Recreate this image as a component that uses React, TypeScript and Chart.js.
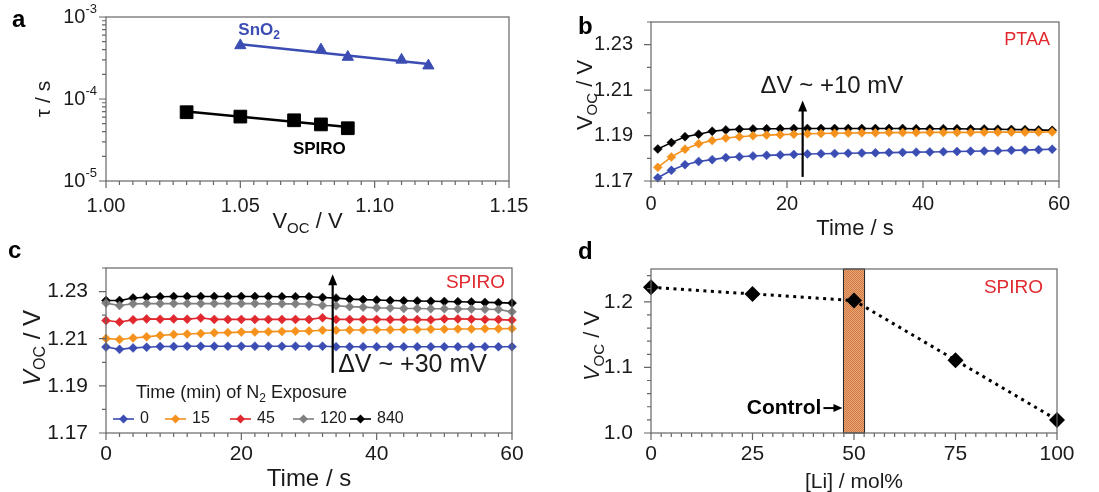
import React, { useEffect, useRef } from 'react';
import { Chart, registerables } from 'chart.js';

Chart.register(...registerables);

const FONT = '"Liberation Sans", Arial, Helvetica, sans-serif';
const AXIS_COLOR = '#666666';
const TEXT_COLOR = '#1b1b1b';
const RED = '#e0282e';
const BLUE = '#3b4db3';
const ORANGE = '#f5921e';
const GRAY = '#808080';
const BLACK = '#000000';

// ---------------- Panel a : tau vs Voc ----------------
const aSnO2Voc = [1.05, 1.08, 1.09, 1.11, 1.12];
const aSnO2Tau = [4.5e-4, 4.0e-4, 3.25e-4, 3.0e-4, 2.55e-4];
const aSpiroVoc = [1.03, 1.05, 1.07, 1.08, 1.09];
const aSpiroTau = [6.9e-5, 6.1e-5, 5.5e-5, 4.9e-5, 4.4e-5];
const aXTicks = [1.0, 1.05, 1.1, 1.15];
const aYTicks = [1e-5, 1e-4, 1e-3];

// ---------------- Panel b : PTAA Voc vs time ----------------
const bTime = [1, 3, 5, 7, 9, 11, 13, 15, 17, 19, 21, 23, 25, 27, 29, 31, 33, 35, 37, 39, 41, 43, 45, 47, 49, 51, 53, 55, 57, 59];
const bVoc0 = [1.1714, 1.1747, 1.1772, 1.1786, 1.1794, 1.1803, 1.1807, 1.181, 1.1813, 1.1815, 1.1817, 1.1819, 1.182, 1.1821, 1.1822, 1.1823, 1.1824, 1.1825, 1.1826, 1.1827, 1.1828, 1.1829, 1.183, 1.1831, 1.1832, 1.1833, 1.1835, 1.1836, 1.1838, 1.184];
const bVoc15 = [1.176, 1.1806, 1.184, 1.1864, 1.1878, 1.1889, 1.1895, 1.1899, 1.1902, 1.1904, 1.1906, 1.1908, 1.1909, 1.191, 1.1911, 1.1912, 1.1912, 1.1913, 1.1913, 1.1913, 1.1914, 1.1914, 1.1914, 1.1914, 1.1915, 1.1915, 1.1915, 1.1915, 1.1915, 1.1916];
const bVoc840 = [1.1841, 1.1869, 1.1895, 1.1906, 1.1919, 1.1925, 1.1928, 1.1929, 1.193, 1.193, 1.1931, 1.1931, 1.1931, 1.1931, 1.1931, 1.1931, 1.1931, 1.1931, 1.1931, 1.193, 1.193, 1.193, 1.193, 1.1929, 1.1929, 1.1928, 1.1927, 1.1926, 1.1925, 1.1923];
const bXTicks = [0, 20, 40, 60];
const bYTicks = [1.17, 1.19, 1.21, 1.23];
const bArrow = { x: 22.3, from: 1.1718, to: 1.2054 };
const bNote = { x: 26.6, y: 1.2117, text: 'ΔV ~ +10 mV' };

// ---------------- Panel c : SPIRO Voc vs time ----------------
const cTime = [0, 2, 4, 6, 8, 10, 12, 14, 16, 18, 20, 22, 24, 26, 28, 30, 32, 34, 36, 38, 40, 42, 44, 46, 48, 50, 52, 54, 56, 58, 60];
const cLegendLabels = ['0', '15', '45', '120', '840'];
const cVoc0 = [1.2065, 1.2055, 1.2061, 1.2064, 1.2067, 1.2067, 1.2068, 1.2068, 1.2068, 1.2068, 1.2068, 1.2068, 1.2068, 1.2068, 1.2068, 1.2068, 1.2068, 1.2066, 1.2066, 1.2066, 1.2066, 1.2066, 1.2066, 1.2066, 1.2066, 1.2066, 1.2066, 1.2066, 1.2066, 1.2066, 1.2066];
const cVoc15 = [1.2101, 1.2097, 1.2103, 1.2108, 1.2114, 1.2118, 1.212, 1.2122, 1.2125, 1.2126, 1.2128, 1.2129, 1.213, 1.2131, 1.2132, 1.2133, 1.2136, 1.2136, 1.2137, 1.2137, 1.2138, 1.2138, 1.2139, 1.2139, 1.214, 1.214, 1.2141, 1.2141, 1.2142, 1.2142, 1.2143];
const cVoc45 = [1.2177, 1.2171, 1.218, 1.2184, 1.2183, 1.2184, 1.2183, 1.2188, 1.2182, 1.2182, 1.2182, 1.2182, 1.2182, 1.2182, 1.2182, 1.2182, 1.2189, 1.2182, 1.2182, 1.2182, 1.2182, 1.2181, 1.2181, 1.2181, 1.218, 1.2184, 1.2184, 1.2183, 1.2182, 1.2181, 1.2179];
const cVoc120 = [1.2251, 1.2241, 1.2248, 1.2249, 1.2249, 1.2249, 1.2249, 1.2249, 1.2249, 1.2249, 1.2249, 1.2249, 1.2248, 1.2248, 1.2248, 1.2247, 1.2241, 1.224, 1.2236, 1.2234, 1.2231, 1.223, 1.2228, 1.2228, 1.2227, 1.2227, 1.2226, 1.2226, 1.2225, 1.2224, 1.2214];
const cVoc840 = [1.2262, 1.2262, 1.2273, 1.2276, 1.2278, 1.2279, 1.2279, 1.2279, 1.2279, 1.2279, 1.2279, 1.2279, 1.2279, 1.2278, 1.2278, 1.2278, 1.2275, 1.2272, 1.2268, 1.2266, 1.2264, 1.2262, 1.2261, 1.226, 1.2259, 1.2258, 1.2257, 1.2256, 1.2254, 1.2253, 1.2251];
const cXTicks = [0, 20, 40, 60];
const cYTicks = [1.17, 1.19, 1.21, 1.23];
const cArrow = { x: 33.5, from: 1.1955, to: 1.2374 };
const cNote = { x: 45.3, y: 1.199, text: 'ΔV ~ +30 mV' };

// ---------------- Panel d : Voc vs [Li] ----------------
const dLi = [0, 25, 50, 75, 100];
const dVoc = [1.222, 1.212, 1.202, 1.111, 1.02];
const dXTicks = [0, 25, 50, 75, 100];
const dYTicks = [1.0, 1.1, 1.2];
const dControlBand = [47.4, 52.6];
const dControlY = 1.038;

// ---------------- helpers ----------------
const YW = 60;
const XH = 34;

type Area = { left: number; top: number; right: number; bottom: number };
type Part = { t: string; size: number; bold?: boolean; italic?: boolean; dy?: number; color?: string };
type AxisSpec = {
  type?: 'linear' | 'logarithmic';
  min: number;
  max: number;
  ticks: number[];
  minor: number[];
  fmt?: (v: number) => string;
  showLabels?: boolean;
  pad?: number;
};

function range(min: number, max: number, step: number): number[] {
  const out: number[] = [];
  const n = Math.round((max - min) / step);
  for (let i = 0; i <= n; i++) out.push(+(min + i * step).toFixed(6));
  return out;
}

function logMinor(minExp: number, maxExp: number): number[] {
  const out: number[] = [];
  for (let e = minExp; e < maxExp; e++) for (let k = 2; k <= 9; k++) out.push(k * Math.pow(10, e));
  return out;
}

function pts(xs: number[], ys: number[]) {
  return xs.map((x, i) => ({ x, y: ys[i] }));
}

function logFitLine(xs: number[], ys: number[]) {
  const n = xs.length;
  const ly = ys.map((v) => Math.log10(v));
  const mx = xs.reduce((s, v) => s + v, 0) / n;
  const my = ly.reduce((s, v) => s + v, 0) / n;
  let sxy = 0;
  let sxx = 0;
  for (let i = 0; i < n; i++) {
    sxy += (xs[i] - mx) * (ly[i] - my);
    sxx += (xs[i] - mx) * (xs[i] - mx);
  }
  const m = sxy / sxx;
  const b = my - m * mx;
  return [xs[0], xs[n - 1]].map((x) => ({ x, y: Math.pow(10, b + m * x) }));
}

function fontOf(p: Part) {
  return `${p.italic ? 'italic ' : ''}${p.bold ? 'bold ' : ''}${p.size}px ${FONT}`;
}

function drawRich(ctx: CanvasRenderingContext2D, parts: Part[], x: number, y: number, align: 'left' | 'center' | 'right' = 'center', angle = 0) {
  ctx.save();
  ctx.translate(x, y);
  if (angle) ctx.rotate(angle);
  let total = 0;
  const widths = parts.map((p) => {
    ctx.font = fontOf(p);
    const w = ctx.measureText(p.t).width;
    total += w;
    return w;
  });
  let cx = align === 'left' ? 0 : align === 'right' ? -total : -total / 2;
  ctx.textBaseline = 'middle';
  ctx.textAlign = 'left';
  parts.forEach((p, i) => {
    ctx.font = fontOf(p);
    ctx.fillStyle = p.color || TEXT_COLOR;
    ctx.fillText(p.t, cx, p.dy || 0);
    cx += widths[i];
  });
  ctx.restore();
}

function vocParts(size: number, italic = false): Part[] {
  return [
    { t: 'V', size, italic },
    { t: 'OC', size: Math.round(size * 0.68), dy: size * 0.3 },
    { t: ' / V', size },
  ];
}

function axisCfg(s: AxisSpec, horizontal: boolean, fs: number) {
  return {
    type: s.type || 'linear',
    min: s.min,
    max: s.max,
    grid: { display: false },
    border: { display: false },
    afterBuildTicks: (sc: any) => {
      sc.ticks = s.ticks.map((v) => ({ value: v }));
    },
    afterFit: (sc: any) => {
      if (horizontal) sc.height = XH;
      else sc.width = YW;
    },
    ticks: {
      display: s.showLabels !== false,
      autoSkip: false,
      maxRotation: 0,
      minRotation: 0,
      padding: s.pad !== undefined ? s.pad : horizontal ? 5 : 10,
      color: TEXT_COLOR,
      font: { family: FONT, size: fs },
      callback: (v: any) => (s.fmt ? s.fmt(Number(v)) : String(v)),
    },
  };
}

function drawFrame(chart: any, xs: AxisSpec, ys: AxisSpec) {
  const { ctx, chartArea: a } = chart;
  const x = chart.scales.x;
  const y = chart.scales.y;
  ctx.save();
  ctx.strokeStyle = AXIS_COLOR;
  ctx.lineWidth = 1.2;
  ctx.strokeRect(a.left, a.top, a.right - a.left, a.bottom - a.top);
  ctx.beginPath();
  xs.minor.forEach((v) => {
    const p = x.getPixelForValue(v);
    ctx.moveTo(p, a.bottom);
    ctx.lineTo(p, a.bottom + 4);
  });
  xs.ticks.forEach((v) => {
    const p = x.getPixelForValue(v);
    ctx.moveTo(p, a.bottom);
    ctx.lineTo(p, a.bottom + 7);
  });
  ys.minor.forEach((v) => {
    const p = y.getPixelForValue(v);
    ctx.moveTo(a.left, p);
    ctx.lineTo(a.left - 4, p);
  });
  ys.ticks.forEach((v) => {
    const p = y.getPixelForValue(v);
    ctx.moveTo(a.left, p);
    ctx.lineTo(a.left - 7, p);
  });
  ctx.stroke();
  ctx.restore();
}

function drawUpArrow(ctx: CanvasRenderingContext2D, x: number, yBottom: number, yTop: number) {
  ctx.save();
  ctx.strokeStyle = BLACK;
  ctx.fillStyle = BLACK;
  ctx.lineWidth = 2.2;
  ctx.beginPath();
  ctx.moveTo(x, yBottom);
  ctx.lineTo(x, yTop + 9);
  ctx.stroke();
  ctx.beginPath();
  ctx.moveTo(x, yTop);
  ctx.lineTo(x - 4.5, yTop + 11);
  ctx.lineTo(x + 4.5, yTop + 11);
  ctx.closePath();
  ctx.fill();
  ctx.restore();
}

function drawLetter(ctx: CanvasRenderingContext2D, t: string, x: number, y: number) {
  drawRich(ctx, [{ t, size: 24, bold: true, color: BLACK }], x, y, 'left');
}

function baseOptions(w: number, h: number, area: Area, xs: AxisSpec, ys: AxisSpec, fs: number) {
  return {
    responsive: false,
    animation: false,
    devicePixelRatio: 1,
    layout: {
      padding: { left: area.left - YW, right: w - area.right, top: area.top, bottom: h - area.bottom - XH },
    },
    plugins: { legend: { display: false }, tooltip: { enabled: false } },
    scales: { x: axisCfg(xs, true, fs), y: axisCfg(ys, false, fs) },
  };
}

type PanelDef = { left: number; top: number; width: number; height: number; make: () => any };

// ---------------- panel configs ----------------
function configA(w: number, h: number) {
  const area = { left: 106, top: 17, right: 509, bottom: 181 };
  const xs: AxisSpec = { min: 1.0, max: 1.15, ticks: aXTicks, minor: range(1.0, 1.15, 0.005), fmt: (v) => v.toFixed(2), pad: 5 };
  const ys: AxisSpec = { type: 'logarithmic', min: 1e-5, max: 1e-3, ticks: aYTicks, minor: logMinor(-5, -3), showLabels: false };
  return {
    type: 'scatter',
    data: {
      datasets: [
        { data: logFitLine(aSnO2Voc, aSnO2Tau), showLine: true, borderColor: BLUE, borderWidth: 2.5, pointRadius: 0, clip: false },
        { data: logFitLine(aSpiroVoc, aSpiroTau), showLine: true, borderColor: BLACK, borderWidth: 2.5, pointRadius: 0, clip: false },
        { data: pts(aSnO2Voc, aSnO2Tau), showLine: false, pointStyle: 'triangle', pointRadius: 6.5, backgroundColor: BLUE, borderColor: BLUE, borderWidth: 1, clip: false },
        { data: pts(aSpiroVoc, aSpiroTau), showLine: false, pointStyle: 'rect', pointRadius: 9, backgroundColor: BLACK, borderColor: BLACK, borderWidth: 1, clip: false },
      ],
    },
    options: baseOptions(w, h, area, xs, ys, 20),
    plugins: [
      {
        id: 'decorA',
        afterDraw(chart: any) {
          const { ctx, chartArea: a } = chart;
          const x = chart.scales.x;
          const y = chart.scales.y;
          drawFrame(chart, xs, ys);
          aYTicks.forEach((v) => {
            const e = Math.round(Math.log10(v));
            drawRich(ctx, [{ t: '10', size: 20 }, { t: String(e), size: 13, dy: -8 }], a.left - 9, y.getPixelForValue(v), 'right');
          });
          drawRich(ctx, [{ t: 'τ / s', size: 21 }], 44, (a.top + a.bottom) / 2, 'center', -Math.PI / 2);
          drawRich(ctx, vocParts(22), (a.left + a.right) / 2, 222, 'center');
          drawRich(ctx, [{ t: 'SnO', size: 17, bold: true, color: BLUE }, { t: '2', size: 12, bold: true, color: BLUE, dy: 5 }], x.getPixelForValue(aSnO2Voc[0]) - 2, y.getPixelForValue(aSnO2Tau[0]) - 15, 'left');
          drawRich(ctx, [{ t: 'SPIRO', size: 17, bold: true, color: BLACK }], x.getPixelForValue(aSpiroVoc[aSpiroVoc.length - 1]) - 2, y.getPixelForValue(aSpiroTau[aSpiroTau.length - 1]) + 21, 'right');
          drawLetter(ctx, 'a', 12, 20);
        },
      },
    ],
  };
}

function seriesDs(xs: number[], ys: number[], color: string, label: string, r = 4.5) {
  return {
    label,
    data: pts(xs, ys),
    showLine: true,
    borderColor: color,
    backgroundColor: color,
    borderWidth: 1.6,
    pointStyle: 'rectRot',
    pointRadius: r,
    pointBorderWidth: 0.5,
    clip: false,
  };
}

function configB(w: number, h: number) {
  const area = { left: 101, top: 17, right: 509, bottom: 181 };
  const xs: AxisSpec = { min: 0, max: 60, ticks: bXTicks, minor: range(0, 60, 2), fmt: (v) => String(v), pad: 3 };
  const ys: AxisSpec = { min: 1.17, max: 1.24, ticks: bYTicks, minor: range(1.17, 1.24, 0.01), fmt: (v) => v.toFixed(2) };
  return {
    type: 'scatter',
    data: {
      datasets: [
        seriesDs(bTime, bVoc0, BLUE, '0'),
        seriesDs(bTime, bVoc15, ORANGE, '15'),
        seriesDs(bTime, bVoc840, BLACK, '840'),
      ],
    },
    options: baseOptions(w, h, area, xs, ys, 20),
    plugins: [
      {
        id: 'decorB',
        afterDraw(chart: any) {
          const { ctx, chartArea: a } = chart;
          const x = chart.scales.x;
          const y = chart.scales.y;
          drawFrame(chart, xs, ys);
          drawUpArrow(ctx, x.getPixelForValue(bArrow.x), y.getPixelForValue(bArrow.from), y.getPixelForValue(bArrow.to));
          drawRich(ctx, [{ t: bNote.text, size: 24 }], x.getPixelForValue(bNote.x), y.getPixelForValue(bNote.y), 'center');
          drawRich(ctx, [{ t: 'PTAA', size: 18, color: RED }], a.right - 9, a.top + 18, 'right');
          drawRich(ctx, vocParts(22), 36, 95, 'center', -Math.PI / 2);
          drawRich(ctx, [{ t: 'Time / s', size: 22 }], (a.left + a.right) / 2, 229, 'center');
          drawLetter(ctx, 'b', 28, 27);
        },
      },
    ],
  };
}

function configC(w: number, h: number) {
  const area = { left: 106, top: 28, right: 512, bottom: 193 };
  const xs: AxisSpec = { min: 0, max: 60, ticks: cXTicks, minor: range(0, 60, 2), fmt: (v) => String(v), pad: 1 };
  const ys: AxisSpec = { min: 1.17, max: 1.24, ticks: cYTicks, minor: range(1.17, 1.24, 0.01), fmt: (v) => v.toFixed(2) };
  const colors = [BLUE, ORANGE, RED, GRAY, BLACK];
  const series = [cVoc0, cVoc15, cVoc45, cVoc120, cVoc840];
  const legendOffsets = [7, 59, 124, 187, 244];
  return {
    type: 'scatter',
    data: { datasets: series.map((s, i) => seriesDs(cTime, s, colors[i], cLegendLabels[i])) },
    options: baseOptions(w, h, area, xs, ys, 21),
    plugins: [
      {
        id: 'decorC',
        afterDraw(chart: any) {
          const { ctx, chartArea: a } = chart;
          const x = chart.scales.x;
          const y = chart.scales.y;
          drawFrame(chart, xs, ys);
          drawUpArrow(ctx, x.getPixelForValue(cArrow.x), y.getPixelForValue(cArrow.from), y.getPixelForValue(cArrow.to));
          drawRich(ctx, [{ t: cNote.text, size: 25 }], x.getPixelForValue(cNote.x), y.getPixelForValue(cNote.y), 'center');
          drawRich(ctx, [{ t: 'SPIRO', size: 19, color: RED }], a.right - 7, a.top + 15, 'right');
          // legend
          drawRich(ctx, [{ t: 'Time (min) of N', size: 18 }, { t: '2', size: 12, dy: 6 }, { t: ' Exposure', size: 18 }], a.left + 30, a.top + 125, 'left');
          const ly = a.top + 151;
          chart.data.datasets.forEach((ds: any, i: number) => {
            const sx = a.left + legendOffsets[i];
            ctx.save();
            ctx.strokeStyle = ds.borderColor;
            ctx.fillStyle = ds.borderColor;
            ctx.lineWidth = 1.6;
            ctx.beginPath();
            ctx.moveTo(sx, ly);
            ctx.lineTo(sx + 21, ly);
            ctx.stroke();
            const cx = sx + 10.5;
            ctx.beginPath();
            ctx.moveTo(cx, ly - 4.5);
            ctx.lineTo(cx + 4.5, ly);
            ctx.lineTo(cx, ly + 4.5);
            ctx.lineTo(cx - 4.5, ly);
            ctx.closePath();
            ctx.fill();
            ctx.restore();
            drawRich(ctx, [{ t: ds.label, size: 16 }], sx + 27, ly, 'left');
          });
          drawRich(ctx, vocParts(24, true), 33, 108, 'center', -Math.PI / 2);
          drawRich(ctx, [{ t: 'Time / s', size: 24 }], (a.left + a.right) / 2, 239, 'center');
          drawLetter(ctx, 'c', 8, 11);
        },
      },
    ],
  };
}

function makePattern(): CanvasPattern | string {
  const c = document.createElement('canvas');
  c.width = 2;
  c.height = 2;
  const g = c.getContext('2d');
  if (!g) return '#dc8d58';
  g.fillStyle = '#eaa577';
  g.fillRect(0, 0, 2, 2);
  g.fillStyle = '#cf7a42';
  g.fillRect(0, 0, 1, 1);
  g.fillRect(1, 1, 1, 1);
  const p = g.createPattern(c, 'repeat');
  return p || '#dc8d58';
}

function configD(w: number, h: number) {
  const area = { left: 101, top: 29, right: 507, bottom: 193 };
  const xs: AxisSpec = { min: 0, max: 100, ticks: dXTicks, minor: range(0, 100, 2.5), fmt: (v) => String(v), pad: 1 };
  const ys: AxisSpec = { min: 1.0, max: 1.25, ticks: dYTicks, minor: range(1.0, 1.24, 0.02), fmt: (v) => v.toFixed(1) };
  return {
    type: 'scatter',
    data: {
      datasets: [
        {
          data: pts(dLi, dVoc),
          showLine: true,
          borderColor: BLACK,
          backgroundColor: BLACK,
          borderWidth: 3,
          borderDash: [3, 4.5],
          pointStyle: 'rectRot',
          pointRadius: 8,
          pointBorderWidth: 0,
          clip: false,
        },
      ],
    },
    options: baseOptions(w, h, area, xs, ys, 21),
    plugins: [
      {
        id: 'bandD',
        beforeDatasetsDraw(chart: any) {
          const { ctx, chartArea: a } = chart;
          const x = chart.scales.x;
          const x0 = x.getPixelForValue(dControlBand[0]);
          const x1 = x.getPixelForValue(dControlBand[1]);
          ctx.save();
          ctx.fillStyle = makePattern();
          ctx.fillRect(x0, a.top, x1 - x0, a.bottom - a.top);
          ctx.strokeStyle = '#222';
          ctx.lineWidth = 1;
          ctx.strokeRect(x0, a.top, x1 - x0, a.bottom - a.top);
          ctx.restore();
        },
        afterDraw(chart: any) {
          const { ctx, chartArea: a } = chart;
          const x = chart.scales.x;
          const y = chart.scales.y;
          drawFrame(chart, xs, ys);
          const bx = x.getPixelForValue(dControlBand[0]);
          const cy = y.getPixelForValue(dControlY);
          drawRich(ctx, [{ t: 'Control', size: 21, bold: true, color: BLACK }], bx - 22, cy, 'right');
          ctx.save();
          ctx.strokeStyle = BLACK;
          ctx.fillStyle = BLACK;
          ctx.lineWidth = 2;
          ctx.beginPath();
          ctx.moveTo(bx - 20, cy);
          ctx.lineTo(bx - 8, cy);
          ctx.stroke();
          ctx.beginPath();
          ctx.moveTo(bx - 1, cy);
          ctx.lineTo(bx - 10, cy - 4);
          ctx.lineTo(bx - 10, cy + 4);
          ctx.closePath();
          ctx.fill();
          ctx.restore();
          drawRich(ctx, [{ t: 'SPIRO', size: 19, color: RED }], a.right - 14, a.top + 19, 'right');
          drawRich(ctx, vocParts(22, true), 43, 106, 'center', -Math.PI / 2);
          drawRich(ctx, [{ t: '[Li] / mol%', size: 21 }], (a.left + a.right) / 2, 242, 'center');
          drawLetter(ctx, 'd', 28, 12);
        },
      },
    ],
  };
}

const PANELS: PanelDef[] = [
  { left: 0, top: 0, width: 550, height: 240, make: () => configA(550, 240) },
  { left: 550, top: 0, width: 549, height: 240, make: () => configB(549, 240) },
  { left: 0, top: 240, width: 550, height: 252, make: () => configC(550, 252) },
  { left: 550, top: 240, width: 549, height: 252, make: () => configD(549, 252) },
];

function Panel({ def }: { def: PanelDef }) {
  const ref = useRef<HTMLCanvasElement | null>(null);
  useEffect(() => {
    if (!ref.current) return;
    const chart = new Chart(ref.current, def.make());
    return () => chart.destroy();
  }, [def]);
  return (
    <canvas
      ref={ref}
      width={def.width}
      height={def.height}
      style={{ position: 'absolute', left: def.left, top: def.top, width: def.width, height: def.height }}
    />
  );
}

export default function App() {
  useEffect(() => {
    document.body.style.margin = '0';
  }, []);
  return (
    <div style={{ position: 'absolute', left: 0, top: 0, width: 1099, height: 492, background: '#ffffff', overflow: 'hidden' }}>
      {PANELS.map((p, i) => (
        <Panel key={i} def={p} />
      ))}
    </div>
  );
}
